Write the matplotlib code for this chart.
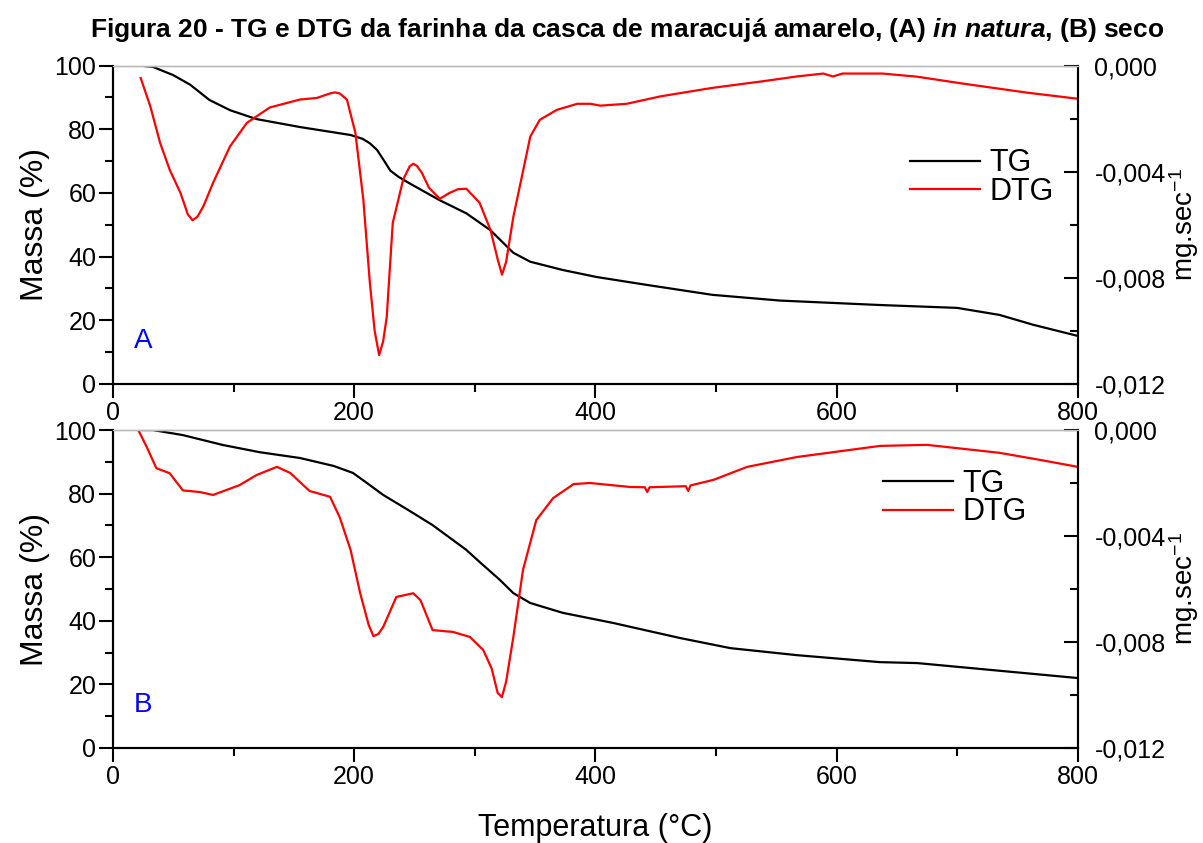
#TG and DTG curves of the passion fruit peel flour, two panels (A in natura, B dry)
import matplotlib
matplotlib.use('Agg')
import matplotlib.pyplot as plt
from matplotlib.ticker import MultipleLocator, FuncFormatter

plt.rcParams['font.family'] = ['Liberation Sans', 'DejaVu Sans']
plt.rcParams['mathtext.fontset'] = 'custom'
plt.rcParams['mathtext.rm'] = 'Liberation Sans'
plt.rcParams['mathtext.it'] = 'Liberation Sans:italic:bold'
plt.rcParams['mathtext.bf'] = 'Liberation Sans:bold'

#panel A - TG (mass %)
temp_tg_a = [22, 33, 50, 64, 80, 97, 119, 155, 197, 207, 213, 219, 225, 230, 237, 246, 271, 293, 313,
             321, 332, 346, 373, 401, 443, 497, 553, 636, 700, 735, 763, 800]
tg_a = [100, 99.6, 97, 94, 89.2, 86, 83.2, 80.7, 78.2, 77, 75.6, 73.5, 70, 67, 65, 63, 57.7, 53.6, 48.3,
        45.3, 41.2, 38.4, 35.8, 33.6, 31.1, 28, 26.2, 24.8, 23.9, 21.7, 18.6, 15.1]

#panel A - DTG (mg/s)
temp_dtg_a = [23, 31, 39, 47, 56, 62, 66, 70, 75, 83, 97, 111, 130, 155, 169, 180, 184, 188, 194, 201,
              207.6, 213, 217, 220.7, 224, 227, 232, 240.6, 246, 249, 252, 256, 262, 271, 279, 286,
              293, 304, 313, 319, 322.6, 326, 332, 339, 346, 354, 368, 385, 396, 404, 426, 454, 497,
              539, 567, 589, 597, 605, 638, 667, 705, 758, 800]
dtg_a = [-0.00047, -0.00154, -0.00290, -0.00392, -0.00480, -0.00560, -0.00583, -0.00570, -0.00530,
         -0.00442, -0.00305, -0.00216, -0.00158, -0.00128, -0.00122, -0.00105, -0.00101, -0.00105,
         -0.00128, -0.00253, -0.00505, -0.00818, -0.01000, -0.01091, -0.01040, -0.00948, -0.00593,
         -0.00430, -0.00380, -0.00370, -0.00378, -0.00403, -0.00460, -0.00502, -0.00480, -0.00466,
         -0.00464, -0.00517, -0.00619, -0.00730, -0.00788, -0.00740, -0.00570, -0.00420, -0.00268,
         -0.00204, -0.00167, -0.00144, -0.00144, -0.00151, -0.00144, -0.00116, -0.00084, -0.00059,
         -0.00041, -0.00030, -0.00041, -0.00030, -0.00030, -0.00042, -0.00068, -0.00102, -0.00125]

#panel B - TG
temp_tg_b = [21, 33, 58, 91, 122, 155, 183, 199, 210, 224, 245, 265, 293, 304, 321, 332, 346, 373,
             415, 470, 512, 567, 636, 667, 800]
tg_b = [100, 100, 98.4, 95.3, 93, 91.2, 88.7, 86.5, 83.5, 79.6, 74.8, 70.1, 62.3, 58.5, 52.8, 48.7,
        45.6, 42.5, 39.3, 34.6, 31.4, 29.2, 27, 26.7, 22]

#panel B - DTG
temp_dtg_b = [21, 28, 36, 47, 58, 72, 83, 105, 119, 136, 147, 163, 180, 188, 197, 205, 212, 216, 220,
              224, 235, 249, 255, 265, 282, 296, 307, 314, 319, 322.5, 326, 332, 340, 351, 365, 382,
              395.5, 429, 441, 443, 445, 475, 477, 479, 498, 526, 567, 636, 675, 735, 769, 800]
dtg_b = [0.0, -0.00064, -0.00144, -0.00163, -0.00228, -0.00234, -0.00245, -0.00208, -0.00170,
         -0.00139, -0.00162, -0.00230, -0.00252, -0.00329, -0.00452, -0.00616, -0.00735, -0.00778,
         -0.00770, -0.00744, -0.00630, -0.00616, -0.00642, -0.00755, -0.00762, -0.00781, -0.00830,
         -0.00900, -0.00992, -0.01008, -0.00950, -0.00781, -0.00528, -0.00340, -0.00257, -0.00204,
         -0.00200, -0.00215, -0.00216, -0.00234, -0.00216, -0.00212, -0.00230, -0.00209, -0.00188,
         -0.00139, -0.00102, -0.00060, -0.00056, -0.00086, -0.00113, -0.00139]

panels = [
    ('A', temp_tg_a, tg_a, temp_dtg_a, dtg_a, [0.0939, 0.5445, 0.8020, 0.3777], (0.826, 0.74)),
    ('B', temp_tg_b, tg_b, temp_dtg_b, dtg_b, [0.0939, 0.1127, 0.8020, 0.3772], (0.798, 0.878)),
]

fig = plt.figure(figsize=(12.03, 8.43), dpi=100)

def comma_fmt(v, pos):
    return ('%.3f' % v).replace('.', ',')

for letter, t1, y1, t2, y2, rect, leg_pos in panels:
    ax = fig.add_axes(rect)
    ax2 = ax.twinx()

    l1, = ax.plot(t1, y1, color='black', lw=1.6, label='TG')
    l2, = ax2.plot(t2, y2, color='red', lw=1.6, label='DTG')

    ax.set_xlim(0, 800)
    ax.set_ylim(0, 100)
    ax2.set_ylim(-0.012, 0)

    ax.xaxis.set_major_locator(MultipleLocator(200))
    ax.xaxis.set_minor_locator(MultipleLocator(100))
    ax.yaxis.set_major_locator(MultipleLocator(20))
    ax.yaxis.set_minor_locator(MultipleLocator(10))
    ax2.yaxis.set_major_locator(MultipleLocator(0.004))
    ax2.yaxis.set_minor_locator(MultipleLocator(0.002))
    ax2.yaxis.set_major_formatter(FuncFormatter(comma_fmt))

    ax.tick_params(which='major', direction='out', length=10, width=1.5, labelsize=18, pad=2)
    ax.tick_params(which='minor', direction='out', length=6, width=1.5)
    ax2.tick_params(which='major', direction='in', length=10, width=1.5, labelsize=18, pad=12)
    ax2.tick_params(which='minor', direction='in', length=6, width=1.5)

    for a in (ax, ax2):
        for s in ('left', 'right', 'bottom'):
            a.spines[s].set_linewidth(1.5)
        a.spines['top'].set_color('#bbbbbb')
        a.spines['top'].set_linewidth(1.0)

    ax.text(0.031, 0.135, letter, color='blue', fontsize=20, transform=ax.transAxes,
            ha='center', va='center')

    ax.legend([l1, l2], ['TG', 'DTG'], loc='upper left', bbox_to_anchor=leg_pos,
              frameon=False, fontsize=22, handlelength=2.3, handletextpad=0.3,
              labelspacing=-0.05, borderpad=0, borderaxespad=0)

    yc = rect[1] + rect[3] / 2
    fig.text(0.029, yc, 'Massa (%)', rotation=90, fontsize=23, ha='center', va='center')
    fig.text(0.984, yc, 'mg.sec$^{-1}$', rotation=90, fontsize=20, ha='center', va='center')

fig.text(0.495, 0.018, 'Temperatura (°C)', fontsize=22, ha='center', va='center')
fig.text(0.521, 0.964, 'Figura 20 - TG e DTG da farinha da casca de maracujá amarelo, (A) $\\it{in\\ natura}$, (B) seco',
         fontsize=19, fontweight='bold', ha='center', va='center')

plt.savefig('out.png', dpi=100)
